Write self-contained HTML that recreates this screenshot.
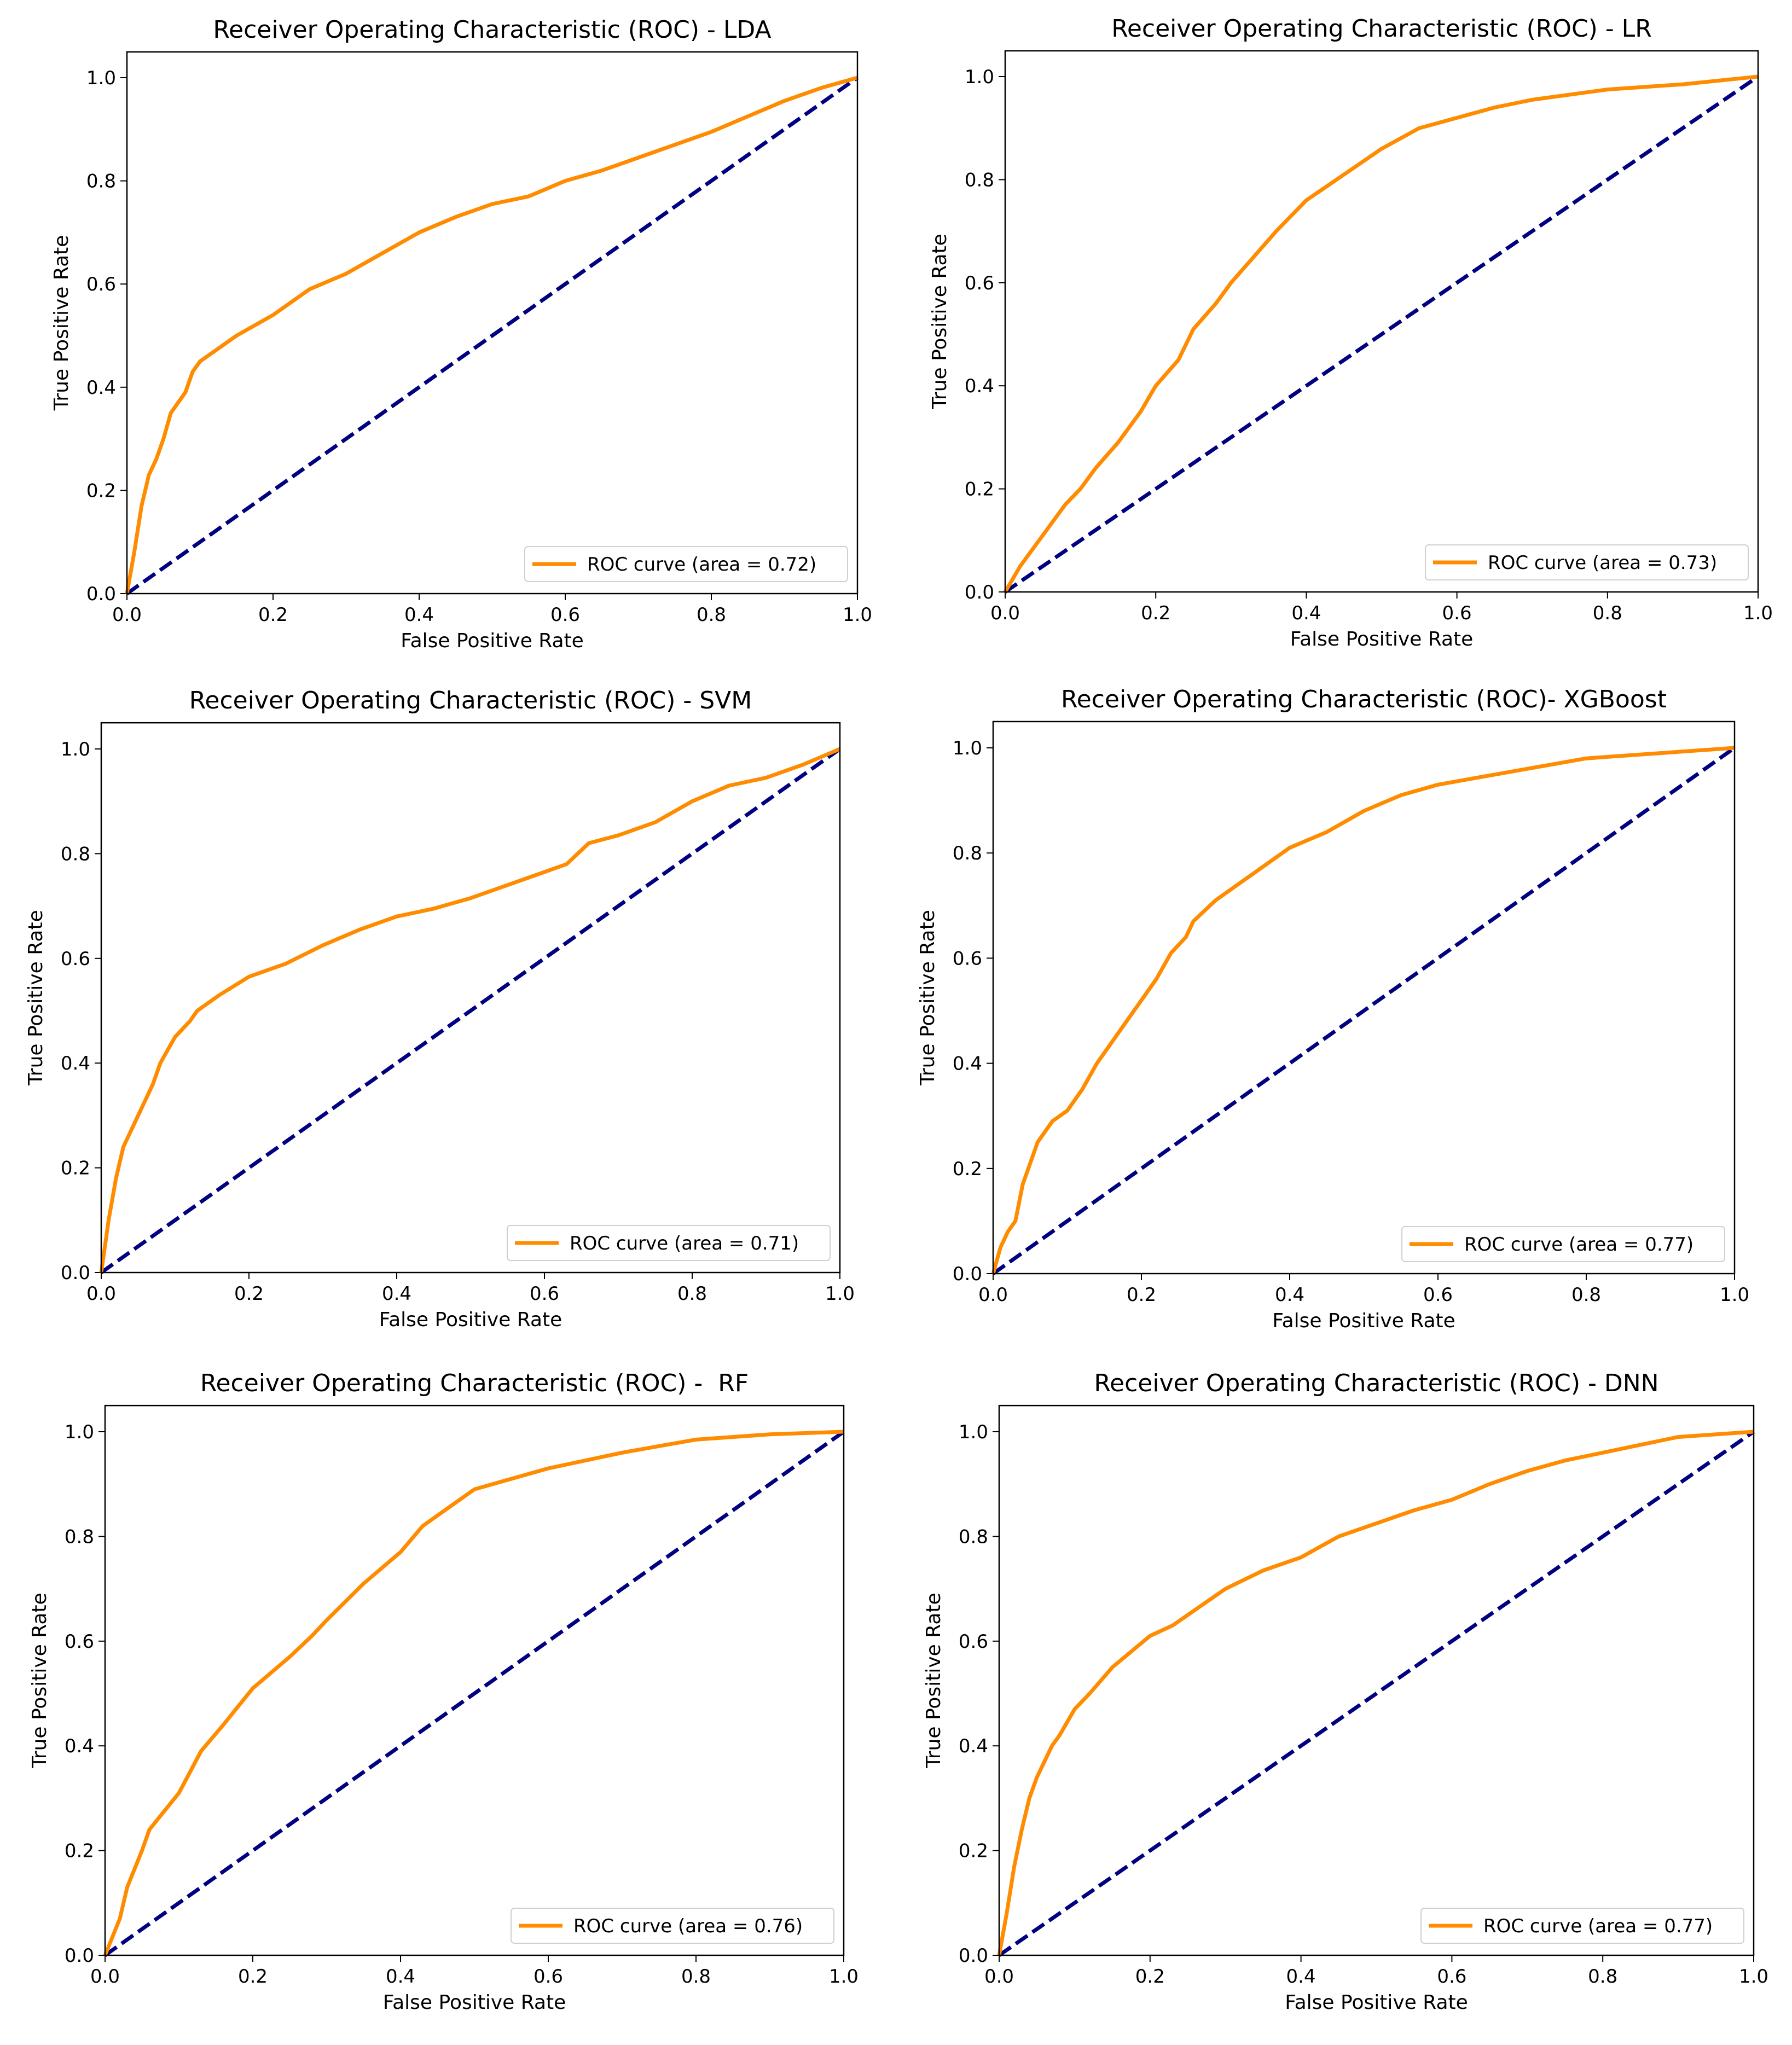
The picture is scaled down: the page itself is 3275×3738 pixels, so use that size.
<!DOCTYPE html>
<html><head><meta charset="utf-8">
<style>
html,body{margin:0;padding:0;background:#fff;}
svg{display:block;font-family:"DejaVu Sans","Liberation Sans",sans-serif;}
</style></head>
<body>
<svg id="fig" width="3275" height="3738" viewBox="0 0 3275 3738" xmlns="http://www.w3.org/2000/svg"></svg>
<script>
const titles = ["Receiver Operating Characteristic (ROC) - LDA","Receiver Operating Characteristic (ROC) - LR","Receiver Operating Characteristic (ROC) - SVM","Receiver Operating Characteristic (ROC)- XGBoost","Receiver Operating Characteristic (ROC) -\u00a0\u00a0RF","Receiver Operating Characteristic (ROC) - DNN"];
const areas = ["0.72","0.73","0.71","0.77","0.76","0.77"];
const ticks = [0,0.2,0.4,0.6,0.8,1.0];
const tickLabels = ["0.0","0.2","0.4","0.6","0.8","1.0"];
const ldaFpr = [0,0.01,0.02,0.03,0.04,0.05,0.06,0.07,0.08,0.09,0.1,0.12,0.15,0.2,0.25,0.3,0.35,0.4,0.45,0.5,0.55,0.6,0.65,0.7,0.75,0.8,0.85,0.9,0.95,1];
const ldaTpr = [0,0.08,0.17,0.23,0.26,0.30,0.35,0.37,0.39,0.43,0.45,0.47,0.50,0.54,0.59,0.62,0.66,0.70,0.73,0.755,0.77,0.80,0.82,0.845,0.87,0.895,0.925,0.955,0.98,1];
const lrFpr = [0,0.02,0.05,0.08,0.1,0.12,0.15,0.18,0.2,0.23,0.25,0.28,0.3,0.33,0.36,0.4,0.45,0.5,0.55,0.6,0.65,0.7,0.8,0.9,1];
const lrTpr = [0,0.05,0.11,0.17,0.2,0.24,0.29,0.35,0.40,0.45,0.51,0.56,0.60,0.65,0.70,0.76,0.81,0.86,0.9,0.92,0.94,0.955,0.975,0.985,1];
const svmFpr = [0,0.01,0.02,0.03,0.05,0.07,0.08,0.1,0.12,0.13,0.16,0.2,0.25,0.3,0.35,0.4,0.45,0.5,0.55,0.6,0.63,0.66,0.7,0.75,0.8,0.85,0.9,0.95,1];
const svmTpr = [0,0.1,0.18,0.24,0.30,0.36,0.40,0.45,0.48,0.50,0.53,0.565,0.59,0.625,0.655,0.68,0.695,0.715,0.74,0.765,0.78,0.82,0.835,0.86,0.9,0.93,0.945,0.97,1];
const xgbFpr = [0,0.01,0.02,0.03,0.04,0.05,0.06,0.08,0.1,0.12,0.14,0.16,0.18,0.2,0.22,0.24,0.26,0.27,0.3,0.35,0.4,0.45,0.5,0.55,0.6,0.7,0.8,0.9,1];
const xgbTpr = [0,0.05,0.08,0.1,0.17,0.21,0.25,0.29,0.31,0.35,0.40,0.44,0.48,0.52,0.56,0.61,0.64,0.67,0.71,0.76,0.81,0.84,0.88,0.91,0.93,0.955,0.98,0.99,1];
const rfFpr = [0,0.02,0.03,0.05,0.06,0.1,0.13,0.16,0.2,0.25,0.28,0.3,0.35,0.4,0.43,0.47,0.5,0.55,0.6,0.7,0.8,0.9,1];
const rfTpr = [0,0.07,0.13,0.20,0.24,0.31,0.39,0.44,0.51,0.57,0.61,0.64,0.71,0.77,0.82,0.86,0.89,0.91,0.93,0.96,0.985,0.995,1];
const dnnFpr = [0,0.01,0.02,0.03,0.04,0.05,0.07,0.08,0.1,0.12,0.15,0.2,0.23,0.27,0.3,0.35,0.4,0.45,0.5,0.55,0.6,0.65,0.7,0.75,0.8,0.85,0.9,1];
const dnnTpr = [0,0.08,0.17,0.24,0.30,0.34,0.40,0.42,0.47,0.50,0.55,0.61,0.63,0.67,0.70,0.735,0.76,0.80,0.825,0.85,0.87,0.90,0.925,0.945,0.96,0.975,0.99,1];
const series = [[ldaFpr,ldaTpr],[lrFpr,lrTpr],[svmFpr,svmTpr],[xgbFpr,xgbTpr],[rfFpr,rfTpr],[dnnFpr,dnnTpr]];
const names = ["lda","lr","svm","xgboost","rf","dnn"];
const boxes = [
 {x0:232,x1:1567,y0:1085,y1:142},
 {x0:1837,x1:3213,y0:1082,y1:140},
 {x0:185,x1:1535,y0:2326,y1:1369},
 {x0:1815,x1:3170,y0:2328,y1:1367},
 {x0:192,x1:1542,y0:3574,y1:2617},
 {x0:1826,x1:3205,y0:3574,y1:2617}
];
const NS="http://www.w3.org/2000/svg";
const svg=document.getElementById('fig');
function mk(tag,attrs,parent,text){const e=document.createElementNS(NS,tag);for(const k in attrs)e.setAttribute(k,attrs[k]);if(text!==undefined)e.textContent=text;parent.appendChild(e);return e;}
boxes.forEach((b,i)=>{
  const sx=v=>b.x0+v*(b.x1-b.x0);
  const sy=v=>b.y0-v*(b.y0-b.y1);
  const g=mk('g',{},svg);
  
  
  const top=sy(1.05), bot=sy(0);
  const t=mk('text',{x:(b.x0+b.x1)/2,y:top-26,'text-anchor':'middle','font-size':44,fill:'#000'},g,titles[i]);
  
  
  ticks.forEach((v,k)=>{
    mk('line',{x1:sx(v),x2:sx(v),y1:bot,y2:bot+12,stroke:'#000','stroke-width':2},g);
    const xl=mk('text',{x:sx(v),y:bot+50,'text-anchor':'middle','font-size':34,fill:'#000'},g,tickLabels[k]);
    
    
    mk('line',{x1:b.x0-12,x2:b.x0,y1:sy(v),y2:sy(v),stroke:'#000','stroke-width':2},g);
    const yl=mk('text',{x:b.x0-20,y:sy(v)+12,'text-anchor':'end','font-size':34,fill:'#000'},g,tickLabels[k]);
    
    
  });
  const xt=mk('text',{x:(b.x0+b.x1)/2,y:bot+98,'text-anchor':'middle','font-size':36,fill:'#000'},g,'False Positive Rate');
  
  
  const yx=b.x0-108, yc=(top+bot)/2;
  const yt=mk('text',{x:yx,y:yc,'text-anchor':'middle','font-size':36,fill:'#000',transform:`rotate(-90 ${yx} ${yc})`},g,'True Positive Rate');
  
  
  const d=mk('line',{x1:sx(0),y1:sy(0),x2:sx(1),y2:sy(1),stroke:'#000080','stroke-width':7,'stroke-dasharray':'26 11'},g);
  
  
  const [fx,ty]=series[i];
  const pts=fx.map((f,k)=>sx(f).toFixed(1)+','+sy(ty[k]).toFixed(1)).join(' ');
  const c=mk('polyline',{points:pts,fill:'none',stroke:'#ff8c00','stroke-width':7,'stroke-linejoin':'round'},g);
  
  
  const f=mk('rect',{x:b.x0,y:top,width:b.x1-b.x0,height:bot-top,fill:'none',stroke:'#000','stroke-width':2.5},g);
  
  
  const lw=590, lh=64, lx=b.x1-lw-18, ly=bot-lh-22;
  const lg=mk('g',{},g);
  
  
  mk('rect',{x:lx,y:ly,width:lw,height:lh,rx:6,fill:'#fff','fill-opacity':0.8,stroke:'#d0d0d0','stroke-width':2},lg);
  mk('line',{x1:lx+14,x2:lx+94,y1:ly+lh/2,y2:ly+lh/2,stroke:'#ff8c00','stroke-width':7},lg);
  const lt=mk('text',{x:lx+114,y:ly+lh/2+12,'font-size':34,fill:'#000'},lg,'ROC curve (area = '+areas[i]+')');
  
  
});
</script>
</body></html>
